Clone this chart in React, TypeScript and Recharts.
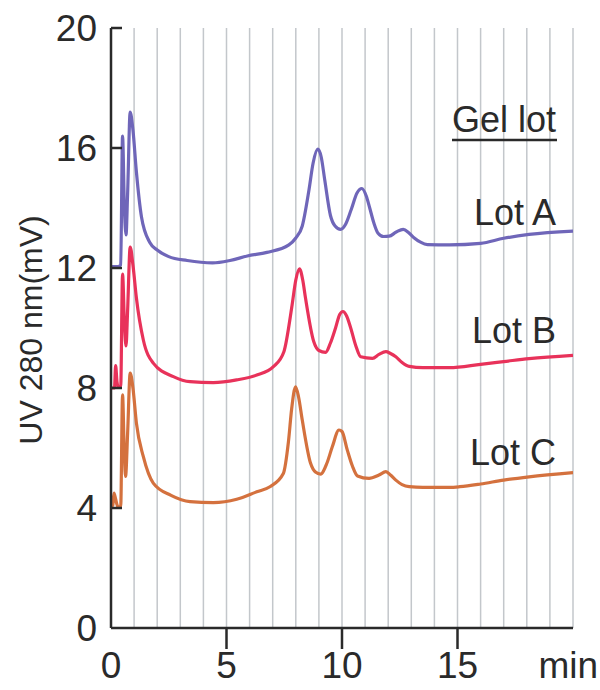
import { CartesianGrid, Customized, Line, LineChart, XAxis, YAxis } from 'recharts';

// retention time (min) / UV 280 nm (mV) pairs
const lotA: Array<[number, number]> = [
  [0, 12.05], [0.3, 12.05], [0.42, 12.1], [0.5, 16.4], [0.58, 14.0], [0.65, 13.1], [0.72, 14.5],
  [0.83, 17.2], [0.95, 16.6], [1.1, 15.2], [1.32, 13.7], [1.68, 12.85], [2.0, 12.6], [2.5, 12.38],
  [3.3, 12.25], [4.4, 12.17], [5.15, 12.25], [5.9, 12.4], [6.75, 12.52], [7.7, 12.77], [8.0, 13.0],
  [8.28, 13.4], [8.57, 14.6], [8.75, 15.5], [8.95, 15.96], [9.1, 15.7], [9.25, 14.95], [9.5, 13.75],
  [9.7, 13.4], [9.94, 13.29], [10.15, 13.45], [10.4, 13.95], [10.65, 14.5], [10.86, 14.65],
  [11.05, 14.4], [11.2, 14.0], [11.38, 13.5], [11.56, 13.16], [11.8, 13.05], [12.04, 13.06],
  [12.35, 13.2], [12.65, 13.29], [12.9, 13.17], [13.13, 13.0], [13.4, 12.86], [13.7, 12.78],
  [14.65, 12.77], [16.0, 12.82], [17.0, 12.99], [18.1, 13.12], [20, 13.23]
];

const lotB: Array<[number, number]> = [
  [0, 8.0], [0.15, 8.0], [0.2, 8.75], [0.26, 8.2], [0.3, 8.05], [0.42, 8.05], [0.5, 11.8],
  [0.58, 10.2], [0.65, 9.4], [0.72, 10.6], [0.83, 12.7], [0.95, 12.1], [1.1, 11.0], [1.4, 9.6],
  [1.83, 8.83], [2.7, 8.38], [3.42, 8.21], [4.43, 8.18], [5.44, 8.27], [6.31, 8.43], [7.03, 8.71],
  [7.48, 9.2], [7.84, 10.77], [8.0, 11.6], [8.16, 11.97], [8.3, 11.6], [8.42, 11.0], [8.78, 9.54],
  [9.0, 9.25], [9.29, 9.19], [9.5, 9.5], [9.72, 10.0], [9.9, 10.45], [10.04, 10.55], [10.2, 10.4],
  [10.38, 9.99], [10.6, 9.4], [10.81, 9.04], [11.32, 8.99], [11.6, 9.12], [11.9, 9.21],
  [12.1, 9.15], [12.33, 9.04], [12.6, 8.85], [12.91, 8.72], [13.5, 8.68], [14.65, 8.68], [16, 8.79],
  [17, 8.88], [18.1, 8.98], [20, 9.09]
];

const lotC: Array<[number, number]> = [
  [0, 4.04], [0.08, 4.1], [0.13, 4.5], [0.2, 4.3], [0.3, 4.04], [0.42, 4.05], [0.5, 7.77],
  [0.57, 6.0], [0.63, 5.05], [0.72, 6.5], [0.83, 8.5], [0.95, 8.0], [1.1, 6.83], [1.4, 5.71],
  [1.83, 4.83], [2.6, 4.42], [3.42, 4.21], [4.43, 4.18], [5.44, 4.29], [6.31, 4.54], [6.88, 4.71],
  [7.46, 5.15], [7.68, 6.2], [7.82, 7.3], [7.99, 8.04], [8.12, 7.7], [8.28, 6.93], [8.64, 5.49],
  [8.85, 5.2], [9.07, 5.13], [9.35, 5.5], [9.58, 6.04], [9.87, 6.6], [10.0, 6.55], [10.23, 5.93],
  [10.45, 5.4], [10.67, 5.07], [11.17, 4.99], [11.6, 5.1], [11.9, 5.21], [12.1, 5.1], [12.33, 4.93],
  [12.6, 4.78], [12.91, 4.71], [13.5, 4.69], [14.65, 4.69], [15.1, 4.71], [16, 4.8], [17, 4.93],
  [18.1, 5.04], [20, 5.18]
];

const xTicks = [0, 5, 10, 15, 20];
const yTicks = [0, 4, 8, 12, 16, 20];
const gridMinutes = [1, 2, 3, 4, 5, 6, 7, 8, 9, 10, 11, 12, 13, 14, 15, 16, 17, 18, 19, 20];
const lotLabels = ['Lot A', 'Lot B', 'Lot C'];

const FONT = '"Liberation Sans", Arial, sans-serif';
const INK = '#2a2a2a';

const toPoints = (pairs: Array<[number, number]>) => pairs.map(([t, uv]) => ({ t, uv }));

function XTick(props: any) {
  const { x, y, payload } = props;
  const v = payload.value as number;
  // the last tick carries the unit instead of a number, kept inside the page edge
  if (v === 20) {
    return (
      <text x={x + 25} y={y + 50} textAnchor="end" fontSize={37} fontFamily={FONT} fill={INK}>
        min
      </text>
    );
  }
  return (
    <g>
      {v > 0 && <line x1={x} x2={x} y1={y} y2={y + 21} stroke={INK} strokeWidth={2.5} />}
      <text x={x} y={y + 50} textAnchor="middle" fontSize={37} fontFamily={FONT} fill={INK}>
        {v}
      </text>
    </g>
  );
}

function YTick(props: any) {
  const { x, y, payload } = props;
  return (
    <g>
      {payload.value > 0 && <line x1={x} x2={x + 11} y1={y} y2={y} stroke={INK} strokeWidth={2.5} />}
      <text x={x - 14} y={y + 13} textAnchor="end" fontSize={37} fontFamily={FONT} fill={INK}>
        {payload.value}
      </text>
    </g>
  );
}

function Annotations() {
  return (
    <g fontFamily={FONT} fill={INK}>
      <text x={42} y={330} transform="rotate(-90 42 330)" textAnchor="middle" fontSize={32}>
        UV 280 nm(mV)
      </text>
      <text x={556} y={132} textAnchor="end" fontSize={36}>Gel lot</text>
      <line x1={452} x2={557} y1={140} y2={140} stroke={INK} strokeWidth={2.5} />
      <text x={556} y={225} textAnchor="end" fontSize={36}>{lotLabels[0]}</text>
      <text x={556} y={343} textAnchor="end" fontSize={36}>{lotLabels[1]}</text>
      <text x={556} y={465} textAnchor="end" fontSize={36}>{lotLabels[2]}</text>
    </g>
  );
}

export default function App() {
  return (
    <div style={{ position: 'absolute', left: 0, top: 0, width: 600, height: 690, background: '#fff' }}>
      <LineChart width={600} height={690} margin={{ top: 28, right: 27, bottom: 12, left: 21 }}>
        <CartesianGrid
          horizontal={false}
          verticalValues={gridMinutes}
          stroke="#c3c7cb"
          strokeWidth={1.5}
        />
        <XAxis
          type="number"
          dataKey="t"
          domain={[0, 20]}
          ticks={xTicks}
          allowDataOverflow
          height={50}
          tickSize={0}
          tickMargin={0}
          tickLine={false}
          axisLine={{ stroke: INK, strokeWidth: 2.5 }}
          tick={<XTick />}
        />
        <YAxis
          type="number"
          dataKey="uv"
          domain={[0, 20]}
          ticks={yTicks}
          width={90}
          tickSize={0}
          tickMargin={0}
          tickLine={false}
          axisLine={{ stroke: INK, strokeWidth: 2.5 }}
          tick={<YTick />}
        />
        <Line data={toPoints(lotA)} dataKey="uv" type="monotone" stroke="#6f66b9" strokeWidth={3.2} dot={false} isAnimationActive={false} />
        <Line data={toPoints(lotB)} dataKey="uv" type="monotone" stroke="#e8325a" strokeWidth={3.2} dot={false} isAnimationActive={false} />
        <Line data={toPoints(lotC)} dataKey="uv" type="monotone" stroke="#d4713e" strokeWidth={3.2} dot={false} isAnimationActive={false} />
        <Customized component={Annotations} />
      </LineChart>
    </div>
  );
}
